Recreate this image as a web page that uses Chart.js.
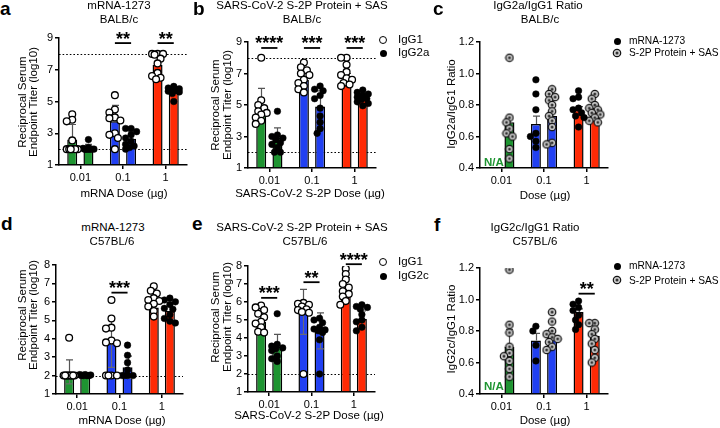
<!DOCTYPE html>
<html><head><meta charset="utf-8">
<script src="https://cdn.jsdelivr.net/npm/chart.js@4.4.1/dist/chart.umd.min.js"></script>
<style>
html,body{margin:0;padding:0;background:#fff;}
#root{position:relative;width:720px;height:428px;overflow:hidden;font-family:'Liberation Sans',Arial,Helvetica,sans-serif;color:#000;}
#root canvas{position:absolute;}
.t{position:absolute;white-space:nowrap;line-height:1;}
</style></head><body><div id="root"></div>
<script>
// ---------- categories & ticks ----------
const doseLabels = ["0.01", "0.1", "1"];
const titerTicksBalb = [1, 2, 3, 4, 5, 6, 7, 8, 9];
const titerTicksC57 = [1, 2, 3, 4, 5, 6, 7, 8];
const ratioTicks = [0.4, 0.6, 0.8, 1.0, 1.2];

// ---------- panel a : mRNA-1273 BALB/c ----------
const aIgG1Mean = [2.6, 3.75, 7.3];
const aIgG1SD = [0.95, 1.0, 0.6];
const aIgG1Pts = [[4.2, 3.85, 3.75, 2.55, 2.0, 2.0, 2.0, 2.0, 2.0, 2.0], [5.4, 4.5, 4.3, 4.0, 3.95, 3.8, 3.0, 2.9, 2.7, 2.0], [8.0, 8.0, 8.0, 7.95, 7.7, 7.4, 6.8, 6.6, 6.5, 6.4]];
const aIgG2aMean = [2.1, 2.65, 5.55];
const aIgG2aSD = [0.2, 0.45, 0.3];
const aIgG2aPts = [[2.6, 2.1, 2.05, 2.0, 2.0, 2.0, 2.0, 2.0, 2.0, 2.0], [3.3, 3.3, 3.1, 2.9, 2.7, 2.5, 2.3, 2.2, 2.1, 2.0], [5.95, 5.85, 5.8, 5.75, 5.7, 5.65, 5.6, 5.5, 5.0]];
const aRef = [8, 2];
const aSig = [[1, 8.68, "**"], [2, 8.68, "**"]];

// ---------- panel b : S-2P + SAS BALB/c ----------
const bIgG1Mean = [4.8, 6.6, 6.3];
const bIgG1SD = [1.25, 0.45, 0.7];
const bIgG1Pts = [[8.0, 5.3, 5.0, 4.8, 4.6, 4.5, 4.4, 4.2, 4.0, 3.8], [7.7, 7.4, 7.2, 7.0, 6.9, 6.6, 6.4, 6.2, 6.0, 5.8], [8.0, 8.0, 7.55, 7.1, 6.9, 6.7, 6.6, 6.4, 6.3, 6.2]];
const bIgG2aMean = [2.9, 4.9, 5.45];
const bIgG2aSD = [0.65, 1.0, 0.3];
const bIgG2aPts = [[4.6, 3.1, 3.0, 2.9, 2.8, 2.6, 2.5, 2.3, 2.0, 2.0], [6.2, 6.0, 5.9, 5.6, 5.4, 4.8, 4.3, 3.9, 3.5, 3.2], [5.95, 5.8, 5.7, 5.6, 5.5, 5.4, 5.35, 5.2, 5.1, 4.95]];
const bRef = [8, 2];
const bSig = [[0, 8.62, "****"], [1, 8.62, "***"], [2, 8.62, "***"]];

// ---------- panel c : IgG2a/IgG1 ratio BALB/c ----------
const cMrnaMean = [null, 0.68, 0.77];
const cMrnaErr = [null, 0.05, 0.02];
const cMrnaPts = [[], [0.96, 0.87, 0.77, 0.62, 0.60, 0.57, 0.53], [0.89, 0.85, 0.84, 0.78, 0.77, 0.75, 0.73, 0.72, 0.66]];
const cS2pMean = [0.69, 0.73, 0.78];
const cS2pErr = [0.03, 0.04, 0.02];
const cS2pPts = [[1.10, 0.72, 0.69, 0.65, 0.62, 0.60, 0.52, 0.46], [0.90, 0.87, 0.85, 0.83, 0.80, 0.76, 0.73, 0.70, 0.66, 0.56, 0.55], [0.87, 0.84, 0.80, 0.78, 0.77, 0.75, 0.74, 0.72, 0.70, 0.69]];

// ---------- panel d : mRNA-1273 C57BL/6 ----------
const dIgG1Mean = [2.2, 3.75, 5.7];
const dIgG1SD = [0.65, 1.3, 0.5];
const dIgG1Pts = [[4.05, 2.0, 2.0, 2.0, 2.0, 2.0, 2.0, 2.0, 2.0, 2.0], [6.1, 5.1, 4.6, 4.55, 3.9, 3.8, 3.75, 2.0, 2.0, 2.0, 2.0], [6.85, 6.6, 6.45, 6.2, 6.1, 6.05, 5.9, 5.75, 5.5, 5.2]];
const dIgG2cMean = [2.05, 2.45, 5.5];
const dIgG2cSD = [0.05, 0.6, 0.45];
const dIgG2cPts = [[2.05, 2.05, 2.03, 2.02, 2.0, 2.0, 2.0, 2.0, 2.0], [3.65, 3.1, 2.7, 2.3, 2.0, 2.0, 2.0, 2.0], [6.2, 6.1, 6.0, 5.85, 5.65, 5.6, 5.3, 5.1, 4.95, 4.85]];
const dRef = [2];
const dSig = [[1, 6.5, "***"]];

// ---------- panel e : S-2P + SAS C57BL/6 ----------
const eIgG1Mean = [4.9, 5.45, 6.7];
const eIgG1SD = [0.55, 1.25, 0.65];
const eIgG1Pts = [[5.8, 5.7, 5.55, 5.35, 5.15, 4.9, 4.8, 4.6, 4.35, 4.3], [5.95, 5.9, 5.85, 5.75, 5.6, 5.55, 5.45, 5.4, 2.0], [7.85, 7.55, 7.25, 7.0, 6.8, 6.6, 6.45, 6.3, 6.05, 5.85]];
const eIgG2cMean = [3.5, 4.4, 5.05];
const eIgG2cSD = [0.7, 1.0, 0.45];
const eIgG2cPts = [[5.35, 3.65, 3.55, 3.45, 3.4, 3.3, 3.0, 2.85, 2.7], [5.1, 5.0, 4.85, 4.6, 4.5, 4.45, 4.4, 4.3, 3.9, 2.0], [5.85, 5.75, 5.7, 5.6, 5.3, 5.0, 4.9, 4.6, 4.4]];
const eRef = [2];
const eSig = [[0, 6.23, "***"], [1, 7.1, "**"], [2, 8.1, "****"]];

// ---------- panel f : IgG2c/IgG1 ratio C57BL/6 ----------
const fMrnaMean = [null, 0.74, 0.92];
const fMrnaErr = [null, 0.045, 0.02];
const fMrnaPts = [[], [0.83, 0.80, 0.71, 0.61], [0.99, 0.97, 0.95, 0.93, 0.90, 0.87, 0.84, 0.81]];
const fS2pMean = [0.70, 0.77, 0.77];
const fS2pErr = [0.11, 0.03, 0.03];
const fS2pPts = [[1.19, 0.84, 0.79, 0.70, 0.66, 0.64, 0.61, 0.56, 0.51], [0.92, 0.86, 0.80, 0.78, 0.76, 0.75, 0.73, 0.70, 0.68], [0.85, 0.85, 0.81, 0.78, 0.75, 0.72, 0.68, 0.63, 0.60]];
const fSig = [[2, 1.037, "**"]];

// ---------- styling ----------
const FONT = "'Liberation Sans', Arial, Helvetica, sans-serif";
const BAR_COLORS = ['#1e9431', '#2140f2', '#ff2a05'];
const OFF = 0.19;
Chart.defaults.font.family = FONT;
Chart.defaults.font.size = 11;
Chart.defaults.color = '#000';
Chart.defaults.animation = false;

const root = document.getElementById('root');

function ringCanvas() {
  const c = document.createElement('canvas'); c.width = 10; c.height = 10;
  const g = c.getContext('2d');
  g.beginPath(); g.arc(5, 5, 4.3, 0, Math.PI * 2); g.fillStyle = '#111'; g.fill();
  g.beginPath(); g.arc(5, 5, 3.1, 0, Math.PI * 2); g.fillStyle = '#cdcdcd'; g.fill();
  g.beginPath(); g.arc(5, 5, 1.5, 0, Math.PI * 2); g.fillStyle = '#333'; g.fill();
  return c;
}
const RING = ringCanvas();

const MARKERS = {
  open: { pointStyle: 'circle', pointRadius: 3.4, pointBackgroundColor: '#fff', pointBorderColor: '#000', pointBorderWidth: 1.3 },
  filled: { pointStyle: 'circle', pointRadius: 3.3, pointBackgroundColor: '#000', pointBorderColor: '#000', pointBorderWidth: 0.5 },
  ring: { pointStyle: RING, pointRadius: 4.5, pointBackgroundColor: '#ccc', pointBorderColor: '#000', pointBorderWidth: 1 }
};

// compact beeswarm so overlapping points spread a little sideways (layout only)
function swarm(vals, cx, pxX, pxY) {
  const offs = [0, -3, 3, -5.5, 5.5, -1.5, 1.5, -4, 4];
  const placed = [], out = [];
  vals.forEach(v => {
    const py = v * pxY;
    let best = 0, bestD = -1, chosen = null;
    for (const o of offs) {
      const d = placed.length ? Math.min(...placed.map(p => Math.hypot(p[0] - o, p[1] - py))) : Infinity;
      if (d >= 5) { chosen = o; break; }
      if (d > bestD) { bestD = d; best = o; }
    }
    if (chosen === null) chosen = best;
    placed.push([chosen, py]);
    out.push({ x: cx + chosen / pxX, y: v });
  });
  return out;
}

const extras = {
  id: 'extras',
  beforeDatasetsDraw(chart) {
    const o = chart.options.plugins.extras || {};
    const ctx = chart.ctx, a = chart.chartArea, ys = chart.scales.y;
    ctx.save(); ctx.strokeStyle = '#000'; ctx.lineWidth = 1; ctx.setLineDash([1.6, 2]);
    (o.ref || []).forEach(v => {
      const py = Math.round(ys.getPixelForValue(v)) + 0.5;
      ctx.beginPath(); ctx.moveTo(a.left, py); ctx.lineTo(a.right, py); ctx.stroke();
    });
    ctx.restore();
  },
  afterDatasetDraw(chart, args) {
    const ds = chart.data.datasets[args.index];
    if (!ds.err) return;
    const ctx = chart.ctx, ys = chart.scales.y;
    ctx.save(); ctx.lineWidth = 1.2;
    args.meta.data.forEach((el, j) => {
      const v = ds.data[j].y, e = ds.err[j];
      if (e == null) return;
      const x = Math.round(el.x) + 0.5;
      const top = ys.getPixelForValue(v + e);
      ctx.strokeStyle = '#555';
      ctx.beginPath(); ctx.moveTo(x, el.y); ctx.lineTo(x, top);
      ctx.moveTo(x - 3.5, top); ctx.lineTo(x + 3.5, top); ctx.stroke();
      if (ds.lower) {
        const lv = v - e;
        const bot = ys.getPixelForValue(Math.max(lv, ys.min));
        ctx.strokeStyle = 'rgba(110,110,110,0.9)';
        ctx.beginPath(); ctx.moveTo(x, el.y + 1); ctx.lineTo(x, bot);
        if (lv > ys.min) { ctx.moveTo(x - 3.5, bot); ctx.lineTo(x + 3.5, bot); }
        ctx.stroke();
      }
    });
    ctx.restore();
  },
  afterDraw(chart) {
    const o = chart.options.plugins.extras || {};
    const ctx = chart.ctx, xs = chart.scales.x, ys = chart.scales.y;
    ctx.save();
    (o.sig || []).forEach(([g, val, label]) => {
      const x1 = xs.getPixelForValue(g - OFF), x2 = xs.getPixelForValue(g + OFF);
      const py = ys.getPixelForValue(val);
      ctx.strokeStyle = '#000'; ctx.lineWidth = 1.8;
      ctx.beginPath(); ctx.moveTo(x1, py); ctx.lineTo(x2, py); ctx.stroke();
      ctx.font = 'bold 18px ' + FONT; ctx.fillStyle = '#000';
      ctx.textAlign = 'center'; ctx.textBaseline = 'alphabetic';
      ctx.fillText(label, (x1 + x2) / 2, py - 8.5 + 10);
    });
    ctx.restore();
  }
};
Chart.register(extras);

function panel(p) {
  const ML = 30, MT = 20, MR = 14, MB = 26;
  const W = p.R - p.L + ML + MR, H = p.B - p.T + MT + MB;
  const cv = document.createElement('canvas');
  cv.width = W; cv.height = H;
  cv.style.left = (p.L - ML) + 'px'; cv.style.top = (p.T - MT) + 'px';
  cv.style.width = W + 'px'; cv.style.height = H + 'px';
  root.appendChild(cv);
  const pxX = (p.R - p.L) / 3, pxY = (p.B - p.T) / (p.max - p.min);
  const barSets = [], ptSets = [];
  p.series.forEach((s, si) => {
    const side = si === 0 ? -OFF : OFF;
    const bars = [], errs = [], cols = [];
    s.mean.forEach((m, i) => { if (m != null) { bars.push({ x: i + side, y: m }); errs.push(s.err[i]); cols.push(BAR_COLORS[i]); } });
    barSets.push({ type: 'bar', data: bars, err: errs, lower: !!p.lower, grouped: false, maxBarThickness: 10, base: p.min,
      backgroundColor: cols, borderColor: '#000', borderWidth: 1.5, borderSkipped: 'start', order: 3 });
    let pts = [];
    s.pts.forEach((arr, i) => { pts = pts.concat(swarm(arr, i + side, pxX, pxY)); });
    ptSets.push(Object.assign({ type: 'scatter', data: pts, order: 1, pointHoverRadius: 3.4 }, MARKERS[s.marker]));
  });
  const axisCommon = () => ({
    offset: false,
    grid: { display: true, offset: false, drawOnChartArea: false, drawTicks: true, tickLength: 4, color: '#000', lineWidth: 1.5 },
    border: { display: true, color: '#000', width: 1.5 }
  });
  new Chart(cv, {
    type: 'bar',
    data: { datasets: barSets.concat(ptSets) },
    options: {
      responsive: false, maintainAspectRatio: false, devicePixelRatio: 1, events: [],
      layout: { padding: { left: 0, top: MT, right: MR, bottom: MB - 20 } },
      plugins: { legend: { display: false }, tooltip: { enabled: false }, title: { display: false },
        extras: { ref: p.ref || [], sig: p.sig || [] } },
      scales: {
        x: Object.assign(axisCommon(), { type: 'linear', min: -0.5, max: 2.5,
          afterBuildTicks: s => { s.ticks = doseLabels.map((_, i) => ({ value: i })); },
          afterFit: s => { s.height = 20; },
          ticks: { callback: v => doseLabels[v], padding: 2, maxRotation: 0, autoSkip: false, color: '#000', font: { size: 11 } } }),
        y: Object.assign(axisCommon(), { type: 'linear', min: p.min, max: p.max,
          afterBuildTicks: s => { s.ticks = p.yTicks.map(v => ({ value: v })); },
          afterFit: s => { s.width = ML; },
          ticks: { callback: v => p.fmt(v), padding: 2, color: '#000', font: { size: 11 } } })
      }
    }
  });
}

const fmtInt = v => String(Math.round(v));
const fmt1 = v => v.toFixed(1);

panel({ L: 59, R: 187, T: 38, B: 165, min: 1, max: 9, yTicks: titerTicksBalb, fmt: fmtInt, ref: aRef, sig: aSig,
  series: [{ mean: aIgG1Mean, err: aIgG1SD, pts: aIgG1Pts, marker: 'open' }, { mean: aIgG2aMean, err: aIgG2aSD, pts: aIgG2aPts, marker: 'filled' }] });
panel({ L: 248, R: 376, T: 42, B: 168, min: 1, max: 9, yTicks: titerTicksBalb, fmt: fmtInt, ref: bRef, sig: bSig,
  series: [{ mean: bIgG1Mean, err: bIgG1SD, pts: bIgG1Pts, marker: 'open' }, { mean: bIgG2aMean, err: bIgG2aSD, pts: bIgG2aPts, marker: 'filled' }] });
panel({ L: 480, R: 608, T: 42, B: 168, min: 0.4, max: 1.2, yTicks: ratioTicks, fmt: fmt1,
  series: [{ mean: cMrnaMean, err: cMrnaErr, pts: cMrnaPts, marker: 'filled' }, { mean: cS2pMean, err: cS2pErr, pts: cS2pPts, marker: 'ring' }] });
panel({ L: 56, R: 183, T: 265, B: 394, min: 1, max: 8, yTicks: titerTicksC57, fmt: fmtInt, ref: dRef, sig: dSig, lower: true,
  series: [{ mean: dIgG1Mean, err: dIgG1SD, pts: dIgG1Pts, marker: 'open' }, { mean: dIgG2cMean, err: dIgG2cSD, pts: dIgG2cPts, marker: 'filled' }] });
panel({ L: 248, R: 375, T: 266, B: 392, min: 1, max: 8, yTicks: titerTicksC57, fmt: fmtInt, ref: eRef, sig: eSig, lower: true,
  series: [{ mean: eIgG1Mean, err: eIgG1SD, pts: eIgG1Pts, marker: 'open' }, { mean: eIgG2cMean, err: eIgG2cSD, pts: eIgG2cPts, marker: 'filled' }] });
panel({ L: 480, R: 608, T: 268, B: 394, min: 0.4, max: 1.2, yTicks: ratioTicks, fmt: fmt1, sig: fSig,
  series: [{ mean: fMrnaMean, err: fMrnaErr, pts: fMrnaPts, marker: 'filled' }, { mean: fS2pMean, err: fS2pErr, pts: fS2pPts, marker: 'ring' }] });

// ---------- texts ----------
function txt(s, x, base, o) {
  o = o || {};
  const d = document.createElement('div'); d.className = 't'; d.textContent = s;
  const fs = o.size || 11.5;
  d.style.fontSize = fs + 'px';
  if (o.bold) d.style.fontWeight = 'bold';
  if (o.color) d.style.color = o.color;
  d.style.top = (base - 0.8465 * fs) + 'px';
  d.style.left = x + 'px';
  d.style.transform = 'translateX(' + (o.align === 'left' ? '0' : '-50%') + ')';
  root.appendChild(d);
}
function vtxt(s, cx, cy, fs) {
  const d = document.createElement('div'); d.className = 't'; d.textContent = s;
  d.style.fontSize = fs + 'px'; d.style.left = cx + 'px'; d.style.top = cy + 'px';
  d.style.transform = 'translate(-50%,-50%) rotate(-90deg)';
  root.appendChild(d);
}
function marker(cx, cy, type) {
  if (type === 'ring') {
    const c = ringCanvas(); c.style.left = (cx - 5) + 'px'; c.style.top = (cy - 5) + 'px'; root.appendChild(c); return;
  }
  const d = document.createElement('div');
  const r = type === 'open' ? 4.1 : 3.5;
  Object.assign(d.style, { position: 'absolute', left: (cx - r) + 'px', top: (cy - r) + 'px', width: 2 * r + 'px', height: 2 * r + 'px',
    borderRadius: '50%', boxSizing: 'border-box', background: type === 'open' ? '#fff' : '#000', border: type === 'open' ? '1.3px solid #000' : 'none' });
  root.appendChild(d);
}

// panel letters
[['a', 0, 15], ['b', 193, 15], ['c', 433, 15], ['d', 1, 230.5], ['e', 192, 230.5], ['f', 434, 231]].forEach(([l, x, b]) => txt(l, x, b, { size: 19, bold: true, align: 'left' }));

// titles
txt('mRNA-1273', 119, 10); txt('BALB/c', 119, 23.5);
txt('SARS-CoV-2 S-2P Protein + SAS', 302, 10); txt('BALB/c', 302, 23.5);
txt('IgG2a/IgG1 Ratio', 538, 10); txt('BALB/c', 540, 23.5);
txt('mRNA-1273', 113, 232); txt('C57BL/6', 112, 245.5);
txt('SARS-CoV-2 S-2P Protein + SAS', 302, 232); txt('C57BL/6', 305, 245.5);
txt('IgG2c/IgG1 Ratio', 535, 232); txt('C57BL/6', 535, 245.5);

// axis titles
vtxt('Reciprocal Serum', 23, 101.5, 11.5); vtxt('Endpoint Titer (log10)', 33.5, 101.5, 11.5);
vtxt('Reciprocal Serum', 216, 105, 11.5); vtxt('Endpoint Titer (log10)', 227.5, 105, 11.5);
vtxt('IgG2a/IgG1 Ratio', 452, 103.5, 11.5);
vtxt('Reciprocal Serum', 22.5, 315, 11.5); vtxt('Endpoint Titer (log10)', 33.5, 315, 11.5);
vtxt('Reciprocal Serum', 216, 317, 11.5); vtxt('Endpoint Titer (log10)', 227.5, 317, 11.5);
vtxt('IgG2c/IgG1 Ratio', 452, 328.5, 11.5);

txt('mRNA Dose (µg)', 124, 197.5);
txt('SARS-CoV-2 S-2P Dose (µg)', 310, 197.5);
txt('Dose (µg)', 545, 199.5);
txt('mRNA Dose (µg)', 122, 425);
txt('SARS-CoV-2 S-2P Dose (µg)', 309, 420);
txt('Dose (µg)', 545, 425);

// N/A labels
txt('N/A', 484, 166.5, { bold: true, color: BAR_COLORS[0], size: 11.5, align: 'left' });
txt('N/A', 484, 391, { bold: true, color: BAR_COLORS[0], size: 11.5, align: 'left' });

// legends
marker(383, 40, 'open'); txt('IgG1', 398, 44, { align: 'left', size: 11.5 });
marker(383, 53, 'filled'); txt('IgG2a', 398, 57, { align: 'left', size: 11.5 });
marker(383, 262, 'open'); txt('IgG1', 398, 266, { align: 'left', size: 11.5 });
marker(383, 276, 'filled'); txt('IgG2c', 398, 280, { align: 'left', size: 11.5 });
marker(617, 41, 'filled'); txt('mRNA-1273', 629, 45, { align: 'left', size: 10.2 });
marker(617, 52.5, 'ring'); txt('S-2P Protein + SAS', 629, 56.5, { align: 'left', size: 10.2 });
marker(617, 266, 'filled'); txt('mRNA-1273', 629, 270, { align: 'left', size: 10.2 });
marker(617, 280, 'ring'); txt('S-2P Protein + SAS', 629, 284.5, { align: 'left', size: 10.2 });
</script></body></html>
